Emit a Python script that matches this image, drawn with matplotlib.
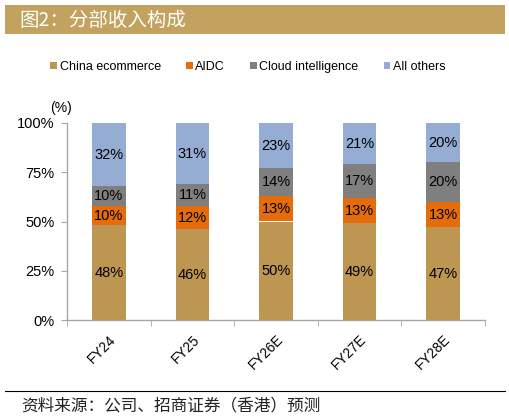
import matplotlib
matplotlib.use("Agg")
import matplotlib.pyplot as plt
from matplotlib.patches import Rectangle, Patch
from matplotlib.lines import Line2D
import numpy as np

plt.rcParams['font.family'] = ['Liberation Sans', 'Noto Sans CJK SC', 'DejaVu Sans']

categories = ["FY24", "FY25", "FY26E", "FY27E", "FY28E"]
series_names = ["China ecommerce", "AIDC", "Cloud intelligence", "All others"]
china_ecommerce = [48, 46, 50, 49, 47]
aidc = [10, 12, 13, 13, 13]
cloud = [10, 11, 14, 17, 20]
all_others = [32, 31, 23, 21, 20]
ytick_values = [0, 25, 50, 75, 100]
ytick_labels = ["0%", "25%", "50%", "75%", "100%"]

colors = ["#BD9651", "#E46C0A", "#7F7F7F", "#95ADD3"]
W, H = 510, 419
fig = plt.figure(figsize=(W / 100, H / 100), dpi=100)

# title band
fig.patches.append(Rectangle((5 / W, 1 - 34 / H), 500 / W, 29 / H, transform=fig.transFigure,
                             facecolor="#C2A25E", edgecolor="none", zorder=0))
fig.text(19 / W, 1 - 20 / H, "图2：分部收入构成", color="white", fontsize=14,
         family=['Noto Sans CJK SC', 'DejaVu Sans'], fontweight='light', va='center', ha='left')

ax = fig.add_axes([67 / W, 1 - 320 / H, (485 - 67) / W, (320 - 123) / H])
x = np.arange(len(categories))
data = [china_ecommerce, aidc, cloud, all_others]
bottom = np.zeros(len(categories))
for vals, c in zip(data, colors):
    vals = np.array(vals, dtype=float)
    ax.bar(x, vals, bottom=bottom, width=0.4, color=c, edgecolor='none')
    for xi, b, v in zip(x, bottom, vals):
        ax.text(xi, b + v / 2, f"{int(v)}%", ha='center', va='center', fontsize=10.5, color='black')
    bottom += vals

ax.set_xlim(-0.5, len(categories) - 0.5)
ax.set_ylim(0, 100)
ax.set_yticks(ytick_values)
ax.set_yticklabels(ytick_labels, fontsize=10.5)
ax.set_xticks(x)
ax.set_xticklabels(categories, rotation=45, ha='right', va='top', rotation_mode='anchor', fontsize=10)
ax.set_xticks(np.arange(-0.5, len(categories)), minor=True)
ax.tick_params(axis='x', which='major', length=0, pad=9)
ax.tick_params(axis='x', which='minor', length=4, color='#A6A6A6', direction='out')
ax.tick_params(axis='y', length=4, color='#A6A6A6', direction='out', pad=5)
for s in ['top', 'right']:
    ax.spines[s].set_visible(False)
for s in ['left', 'bottom']:
    ax.spines[s].set_color('#A6A6A6')
    ax.spines[s].set_linewidth(1)

fig.text(61 / W, 1 - 108 / H, "(%)", fontsize=10, ha='center', va='center')

handles = [Patch(facecolor=c, edgecolor='none') for c in colors]
fig.legend(handles, series_names, loc='center', bbox_to_anchor=(248 / W, 1 - 67 / H), ncol=4,
           frameon=False, fontsize=9, handlelength=0.55, handleheight=0.55, handletextpad=0.2,
           columnspacing=2.0, borderpad=0, borderaxespad=0)

# footer
fig.lines.append(Line2D([5 / W, 505 / W], [1 - 391 / H, 1 - 391 / H], transform=fig.transFigure,
                        color='black', linewidth=0.8))
fig.text(21 / W, 1 - 406 / H, "资料来源：公司、招商证券（香港）预测", fontsize=12,
         family=['Noto Sans CJK SC', 'DejaVu Sans'], fontweight='light', ha='left', va='center', color='#222222')

fig.savefig("out.png", dpi=100)
